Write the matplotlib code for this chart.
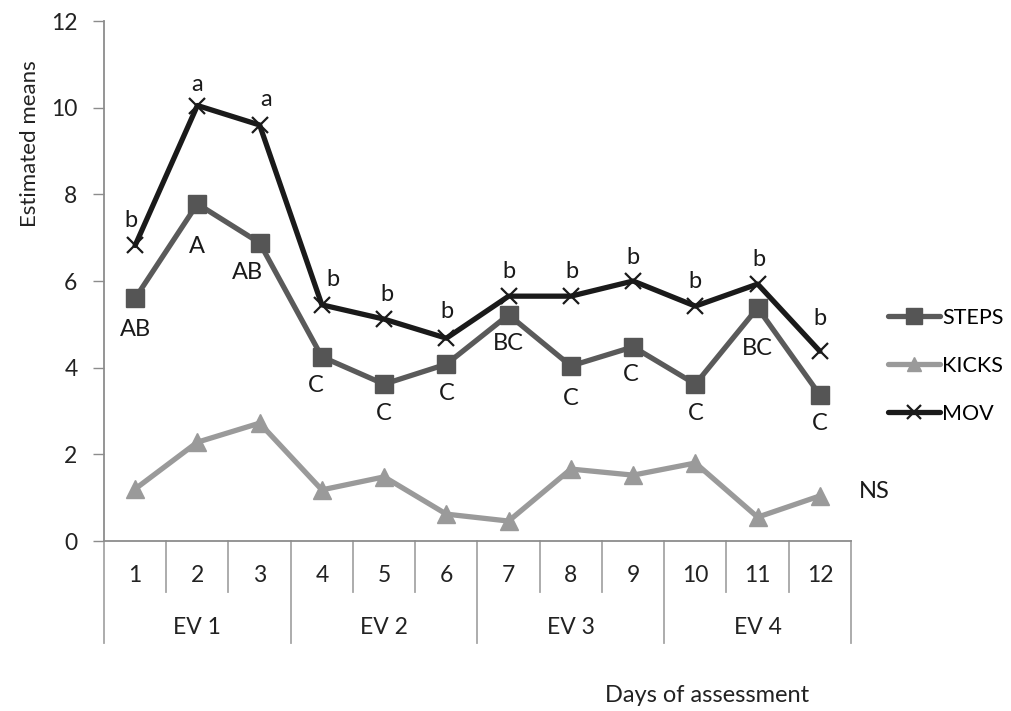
import matplotlib
matplotlib.use("Agg")
import matplotlib.pyplot as plt
import matplotlib.transforms as mtransforms

plt.rcParams['font.family'] = ['Lato', 'DejaVu Sans']

days = ["1", "2", "3", "4", "5", "6", "7", "8", "9", "10", "11", "12"]
groups = ["EV 1", "EV 2", "EV 3", "EV 4"]
steps = [5.6, 7.78, 6.88, 4.25, 3.62, 4.08, 5.22, 4.04, 4.48, 3.62, 5.38, 3.37]
kicks = [1.2, 2.28, 2.72, 1.18, 1.48, 0.62, 0.46, 1.66, 1.52, 1.8, 0.55, 1.04]
mov = [6.82, 10.05, 9.6, 5.45, 5.12, 4.68, 5.65, 5.65, 6.0, 5.42, 5.93, 4.38]
mov_letters = ["b", "a", "a", "b", "b", "b", "b", "b", "b", "b", "b", "b"]
steps_letters = ["AB", "A", "AB", "C", "C", "C", "BC", "C", "C", "C", "BC", "C"]

# label offsets in pixels (dx, dy)
mov_off = [(-4, 25), (0, 21), (6, 25), (11, 25), (3, 25), (1, 27), (0, 25), (1, 25), (0, 23), (0, 25), (1, 25), (0, 33)]
steps_off = [(0, -31), (0, -43), (-12, -30), (-6, -29), (0, -29), (0, -29), (0, -29), (0, -33), (-2, -28), (0, -29), (0, -41), (0, -29)]

W, H, DPI = 1012, 711, 100
fig = plt.figure(figsize=(W / DPI, H / DPI), dpi=DPI)
ax = fig.add_axes([104 / W, 1 - 541 / H, (851 - 104) / W, 520 / H])

x = list(range(len(days)))
c_steps, c_kicks, c_mov = "#5a5a5a", "#9a9a9a", "#1a1a1a"
ax.plot(x, kicks, color=c_kicks, lw=3.8, marker="^", ms=12.5, mfc=c_kicks, mec=c_kicks,
        label="KICKS", solid_capstyle="round", zorder=3)
ax.plot(x, steps, color=c_steps, lw=3.8, marker="s", ms=13, mfc="#555555", mec="#555555",
        label="STEPS", solid_capstyle="round", zorder=4)
ax.plot(x, mov, color=c_mov, lw=3.8, marker="x", ms=12, mew=1.6, mec=c_mov,
        label="MOV", solid_capstyle="round", zorder=5)

ax.set_xlim(-0.5, len(days) - 0.5)
ax.set_ylim(0, 12)
ax.set_yticks(range(0, 13, 2))
ax.tick_params(axis="y", direction="out", length=8, width=1, color="#8c8c8c",
               labelsize=16.5, labelcolor="#222222", pad=11)
ax.set_xticks([])
for s in ["top", "right"]:
    ax.spines[s].set_visible(False)
for s in ["left", "bottom"]:
    ax.spines[s].set_color("#8c8c8c")
    ax.spines[s].set_linewidth(1.3)

ax.set_ylabel("Estimated means", fontsize=16, color="#222222")
ax.yaxis.set_label_coords(-64 / 747, 0.765)

fs = 17
for i in x:
    ax.annotate(mov_letters[i], (i, mov[i]), xytext=mov_off[i], textcoords="offset pixels",
                ha="center", va="center", fontsize=fs, color="#1a1a1a")
    ax.annotate(steps_letters[i], (i, steps[i]), xytext=steps_off[i], textcoords="offset pixels",
                ha="center", va="center", fontsize=fs, color="#1a1a1a")
ax.annotate("NS", (x[-1], kicks[-1]), xytext=(54, 4), textcoords="offset pixels",
            ha="center", va="center", fontsize=fs, color="#1a1a1a")

# two-level category axis
trans = mtransforms.blended_transform_factory(ax.transData, ax.transAxes)
y_inner = -51 / 520
y_outer = -102 / 520
for b in range(len(days) + 1):
    bx = b - 0.5
    low = y_outer if b % 3 == 0 else y_inner
    ax.plot([bx, bx], [0, low], transform=trans, color="#a6a6a6", lw=1.3, clip_on=False)
for i, d in enumerate(days):
    ax.text(i, -34 / 520, d, transform=trans, ha="center", va="center", fontsize=16.5, color="#222222")
for g, name in enumerate(groups):
    ax.text(g * 3 + 1, -86 / 520, name, transform=trans, ha="center", va="center",
            fontsize=16.5, color="#222222")

fig.text(707 / W, 1 - 695 / H, "Days of assessment", ha="center", va="center",
         fontsize=17, color="#222222")

handles, labels = ax.get_legend_handles_labels()
order = [1, 0, 2]
leg = fig.legend([handles[k] for k in order], [labels[k] for k in order],
                 loc="center left", bbox_to_anchor=(882 / W, 1 - 366 / H), frameon=False,
                 fontsize=15.5, handlelength=2.4, handletextpad=0.1, labelspacing=1.3,
                 markerscale=0.85, borderaxespad=0, borderpad=0.3)

fig.savefig("out.png", dpi=DPI)
